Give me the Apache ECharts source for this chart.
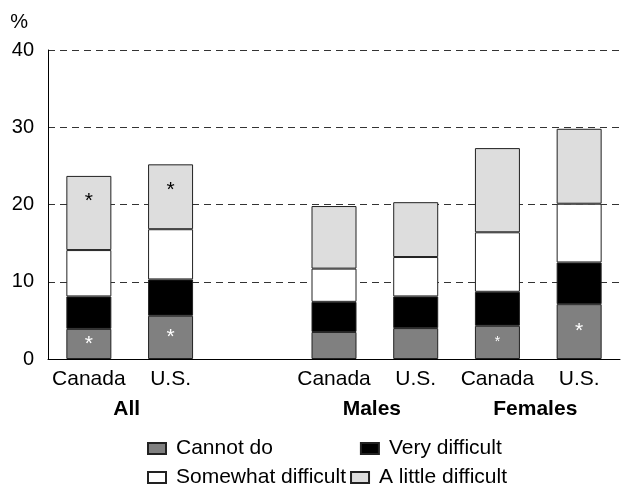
<!DOCTYPE html>
<html>
<head>
<meta charset="utf-8">
<script src="https://cdn.jsdelivr.net/npm/echarts@6/dist/echarts.min.js"></script>
<style>
html,body{margin:0;padding:0;background:#fff;}
#chart{width:623px;height:489px;}
</style>
</head>
<body>
<div id="chart"></div>
<script>
const categories = ['Canada', 'U.S.', '', 'Canada', 'U.S.', 'Canada', 'U.S.'];
const groupLabels = ['', '', 'All', '', '', '', '', '', 'Males', '', '', '', 'Females', '', ''];
const yTicks = [0, 10, 20, 30, 40];

const cannotDo = [3.9, 5.6, null, 3.5, 4.0, 4.3, 7.1];
const veryDifficult = [4.2, 4.7, null, 3.9, 4.1, 4.4, 5.4];
const somewhatDifficult = [6.0, 6.5, null, 4.3, 5.1, 7.7, 7.6];
const littleDifficult = [9.6, 8.4, null, 8.1, 7.1, 10.9, 9.7];

// significance markers ('' none, 'big' large asterisk, 'small' small asterisk)
const cannotDoFlags = ['big', 'big', '', '', '', 'small', 'big'];
const littleFlags = ['big', 'big', '', '', '', '', ''];

const FONT = '"Liberation Sans", Arial, sans-serif';

function starData(values, flags) {
  return values.map((v, i) => {
    if (v === null) return { value: null };
    const f = flags[i];
    return {
      value: v,
      label: f ? { show: true, fontSize: f === 'small' ? 14 : 21 } : { show: false }
    };
  });
}

const chart = echarts.init(document.getElementById('chart'), null, { renderer: 'canvas' });

const border = { borderColor: '#222222', borderWidth: 1 };
const legendText = { fontFamily: FONT, fontSize: 21, color: '#000', padding: [0, 0, 0, 5] };

chart.setOption({
  animation: false,
  grid: { left: 48, right: 0, top: 50, bottom: 130, containLabel: false },
  legend: [
    {
      data: ['Cannot do', 'Very difficult'],
      left: 142, top: 433,
      itemWidth: 18, itemHeight: 11, itemGap: 87,
      textStyle: legendText,
      icon: 'rect'
    },
    {
      data: ['Somewhat difficult', 'A little difficult'],
      left: 142, top: 462,
      itemWidth: 18, itemHeight: 11, itemGap: 4,
      textStyle: legendText,
      icon: 'rect'
    }
  ],
  xAxis: [
    {
      type: 'category',
      data: categories,
      axisLine: { show: true, lineStyle: { color: '#000', width: 1 } },
      axisTick: { show: false },
      axisLabel: { interval: 0, margin: 10, fontFamily: FONT, fontSize: 21, color: '#000' },
      splitLine: { show: false }
    },
    {
      type: 'category',
      data: groupLabels,
      position: 'bottom',
      boundaryGap: false,
      axisLine: { show: false },
      axisTick: { show: false },
      axisLabel: { interval: 0, margin: 40, fontFamily: FONT, fontSize: 21, fontWeight: 'bold', color: '#000', padding: [0, 6, 0, 0] },
      splitLine: { show: false }
    }
  ],
  yAxis: {
    type: 'value',
    min: yTicks[0], max: yTicks[yTicks.length - 1], interval: 10,
    name: '%',
    nameLocation: 'end',
    nameGap: 18,
    nameTextStyle: { fontFamily: FONT, fontSize: 20, color: '#000', align: 'right', padding: [0, 20, 0, 0] },
    axisLine: { show: true, lineStyle: { color: '#000', width: 1 } },
    axisTick: { show: false },
    axisLabel: { margin: 14, fontFamily: FONT, fontSize: 20, color: '#000' },
    splitLine: { show: true, lineStyle: { color: '#333333', type: [7, 5], width: 1 } }
  },
  series: [
    {
      name: 'Cannot do', type: 'bar', stack: 'total', barWidth: 45,
      itemStyle: Object.assign({ color: '#808080' }, border),
      label: { show: false, position: 'inside', formatter: '*', color: '#fff', fontFamily: FONT },
      data: starData(cannotDo, cannotDoFlags)
    },
    {
      name: 'Very difficult', type: 'bar', stack: 'total', barWidth: 45,
      itemStyle: Object.assign({ color: '#000000' }, border),
      data: veryDifficult
    },
    {
      name: 'Somewhat difficult', type: 'bar', stack: 'total', barWidth: 45,
      itemStyle: Object.assign({ color: '#ffffff' }, border),
      data: somewhatDifficult
    },
    {
      name: 'A little difficult', type: 'bar', stack: 'total', barWidth: 45,
      itemStyle: Object.assign({ color: '#dddddd' }, border),
      label: { show: false, position: 'insideTop', distance: 15, formatter: '*', color: '#000', fontFamily: FONT },
      data: starData(littleDifficult, littleFlags)
    }
  ]
});
</script>
</body>
</html>
